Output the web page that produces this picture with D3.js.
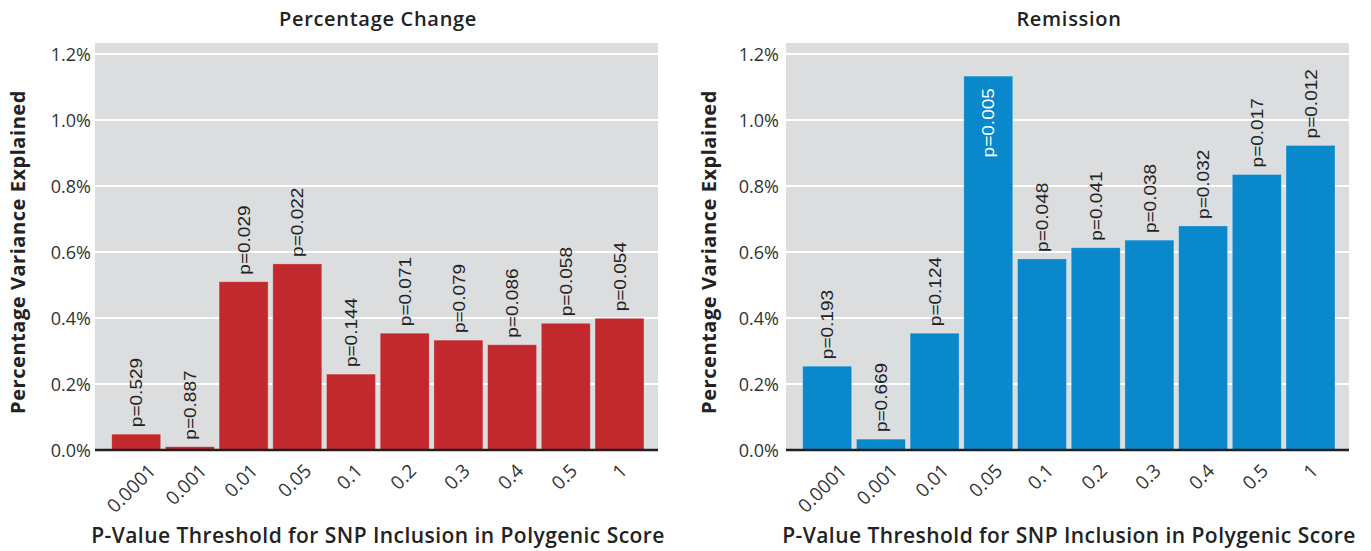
<!DOCTYPE html>
<html>
<head>
<meta charset="utf-8">
<script src="https://cdn.jsdelivr.net/npm/d3@7"></script>
<style>
  html, body { margin: 0; padding: 0; background: #fff; }
  svg { display: block; }
</style>
</head>
<body>
<svg id="chart" width="1371" height="551"></svg>
<script>
// P-value thresholds used to build the polygenic score
const thresholds = ["0.0001", "0.001", "0.01", "0.05", "0.1", "0.2", "0.3", "0.4", "0.5", "1"];

// Percentage change outcome: % variance explained and association p-values
const changeVariance = [0.048, 0.010, 0.510, 0.564, 0.230, 0.354, 0.333, 0.319, 0.384, 0.399];
const changeP = ["0.529", "0.887", "0.029", "0.022", "0.144", "0.071", "0.079", "0.086", "0.058", "0.054"];

// Remission outcome
const remissionVariance = [0.254, 0.033, 0.354, 1.133, 0.579, 0.613, 0.636, 0.679, 0.835, 0.923];
const remissionP = ["0.193", "0.669", "0.124", "0.005", "0.048", "0.041", "0.038", "0.032", "0.017", "0.012"];

// Y axis ticks (percent)
const yTicks = [0, 0.2, 0.4, 0.6, 0.8, 1.0, 1.2];

const svg = d3.select("#chart");

const panels = [
  { title: "Percentage Change", values: changeVariance, pvals: changeP, color: "#c1292e",
    x0: 95, x1: 658, tickRight: 91, yTitleX: 25 },
  { title: "Remission", values: remissionVariance, pvals: remissionP, color: "#0a88cc",
    x0: 786, x1: 1349, tickRight: 779, yTitleX: 716 }
];

const plotTop = 43, baseY = 450, topTickY = 54;
const y = d3.scaleLinear().domain([0, 1.2]).range([baseY, topTickY]);

const uiFont = "'Open Sans', 'Noto Sans', sans-serif";
const labelFont = "'Liberation Sans', Arial, sans-serif";
const labelGap = 7, labelLen = 70, labelStretch = 1.12;

panels.forEach(p => {
  const g = svg.append("g");

  // Plot background
  g.append("rect")
    .attr("x", p.x0).attr("y", plotTop)
    .attr("width", p.x1 - p.x0).attr("height", baseY - plotTop)
    .attr("fill", "#dcdddf");

  // Horizontal gridlines
  g.selectAll("line.grid").data(yTicks.filter(t => t > 0)).join("line")
    .attr("class", "grid")
    .attr("x1", p.x0).attr("x2", p.x1)
    .attr("y1", d => y(d)).attr("y2", d => y(d))
    .attr("stroke", "#ffffff").attr("stroke-width", 2);

  const x = d3.scaleBand()
    .domain(thresholds)
    .range([p.x0 + 14.35, p.x0 + 14.35 + 537])
    .paddingInner(0.0875)
    .paddingOuter(0.04375);

  // Bars
  g.selectAll("rect.bar").data(p.values).join("rect")
    .attr("class", "bar")
    .attr("x", (d, i) => x(thresholds[i]))
    .attr("y", d => y(d))
    .attr("width", x.bandwidth())
    .attr("height", d => baseY - y(d))
    .attr("fill", p.color)
    .attr("stroke", "rgba(255,255,255,0.35)")
    .attr("stroke-width", 0.8);

  // p-value labels, above the bar, or inside when there is no room above
  g.selectAll("text.pval").data(p.values).join("text")
    .attr("class", "pval")
    .each(function (d, i) {
      const cx = x(thresholds[i]) + x.bandwidth() / 2;
      const top = y(d);
      const inside = top - labelGap - labelLen < plotTop;
      const sel = d3.select(this);
      if (inside) {
        sel.attr("transform", `translate(${cx},${top + 12}) rotate(-90) scale(${labelStretch},1)`)
          .attr("text-anchor", "end").attr("fill", "#ffffff");
      } else {
        sel.attr("transform", `translate(${cx},${top - labelGap}) rotate(-90) scale(${labelStretch},1)`)
          .attr("text-anchor", "start").attr("fill", "#222");
      }
    })
    .attr("dy", "0.36em")
    .attr("font-family", labelFont)
    .attr("font-size", 17)
    .text((d, i) => "p=" + p.pvals[i]);

  // Baseline
  g.append("line")
    .attr("x1", p.x0).attr("x2", p.x1)
    .attr("y1", baseY).attr("y2", baseY)
    .attr("stroke", "#231f20").attr("stroke-width", 2.6);

  // Y axis labels
  const yAxis = d3.axisLeft(y).tickValues(yTicks).tickSize(0).tickPadding(0)
    .tickFormat(d => d3.format(".1f")(d) + "%");
  const ya = g.append("g").attr("transform", `translate(${p.tickRight},0)`).call(yAxis);
  ya.select(".domain").remove();
  ya.selectAll("text")
    .attr("font-family", uiFont).attr("font-size", 18).attr("fill", "#333")
    .attr("dy", "0.34em");

  // X axis labels, rotated; longer labels sit a little further right
  const xAxis = d3.axisBottom(x).tickSize(0).tickPadding(0);
  const xa = g.append("g").attr("transform", `translate(0,${baseY})`).call(xAxis);
  xa.select(".domain").remove();
  xa.selectAll("text")
    .attr("font-family", uiFont).attr("font-size", 19).attr("fill", "#333")
    .attr("text-anchor", "end")
    .attr("dy", null).attr("y", null)
    .each(function () {
      const len = this.getComputedTextLength();
      d3.select(this).attr("transform", `translate(${6 + 0.25 * len},22) rotate(-45)`);
    });

  const cx = (p.x0 + p.x1) / 2 + 1.5;

  // Panel title
  g.append("text")
    .attr("x", cx).attr("y", 26)
    .attr("text-anchor", "middle")
    .attr("font-family", uiFont).attr("font-weight", 600).attr("font-size", 20)
    .attr("letter-spacing", 0.7)
    .attr("fill", "#222")
    .text(p.title);

  // X axis title
  g.append("text")
    .attr("x", cx).attr("y", 543)
    .attr("text-anchor", "middle")
    .attr("font-family", uiFont).attr("font-weight", 600).attr("font-size", 21)
    .attr("letter-spacing", 0.45)
    .attr("fill", "#222")
    .text("P-Value Threshold for SNP Inclusion in Polygenic Score");

  // Y axis title
  g.append("text")
    .attr("transform", `translate(${p.yTitleX},252) rotate(-90)`)
    .attr("text-anchor", "middle")
    .attr("font-family", uiFont).attr("font-weight", 700).attr("font-size", 20)
    .attr("letter-spacing", 0.55)
    .attr("fill", "#222")
    .text("Percentage Variance Explained");
});
</script>
</body>
</html>
